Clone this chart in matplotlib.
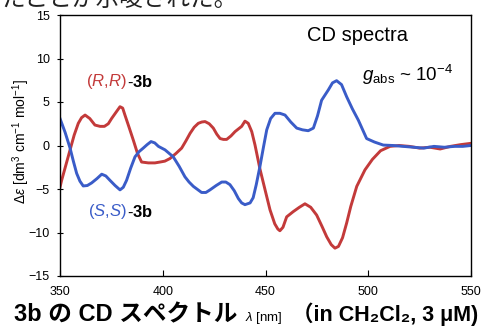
import matplotlib
matplotlib.use("Agg")
import matplotlib.pyplot as plt

plt.rcParams["font.family"] = ["Liberation Sans", "Noto Sans CJK JP", "DejaVu Sans"]
plt.rcParams["mathtext.fontset"] = "custom"
plt.rcParams["mathtext.rm"] = "Liberation Sans"
plt.rcParams["mathtext.it"] = "Liberation Sans:italic"
plt.rcParams["mathtext.bf"] = "Liberation Sans:bold"

# CD spectra (wavelength in nm, delta-epsilon)
rr_wl = [350, 350.8, 352.8, 354.9, 356.9, 358.9, 360.5, 362.2, 364.5, 367, 369.5,
         371.6, 373.5, 375.1, 377.2, 379.2, 380.5, 381.6, 383.6, 385.7, 387.7,
         389.7, 393, 396.2, 398.7, 401, 403.5, 406.5, 409.2, 411.2, 413.3, 415.3,
         417.3, 419, 420.6, 422.6, 424.6, 426.3, 427.9, 429.5, 431.1, 433.2,
         435.2, 438.4, 440, 441.6, 443.3, 444.9, 447.3, 450, 452.2, 454.5, 456,
         457, 458.5, 460.3, 463.5, 466.5, 469.2, 472, 474.9, 477.5, 479.8, 482,
         483.8, 485.5, 487.5, 489.5, 491.5, 494.4, 498.4, 502, 506, 510.6, 515,
         520, 525, 530, 535, 540, 545, 550]
rr_de = [-4.8, -4.0, -2.3, -0.5, 1.2, 2.55, 3.2, 3.5, 3.1, 2.35, 2.2,
         2.2, 2.5, 3.1, 3.8, 4.46, 4.3, 3.5, 2.1, 0.6, -0.9,
         -1.9, -2.0, -2.0, -1.9, -1.8, -1.5, -0.9, -0.3, 0.5, 1.4, 2.1,
         2.55, 2.7, 2.75, 2.5, 2.0, 1.3, 0.8, 0.7, 0.7, 1.1,
         1.6, 2.2, 2.8, 2.55, 1.6, 0.05, -2.7, -5.3, -7.4, -9.0, -9.6,
         -9.8, -9.4, -8.2, -7.6, -7.1, -6.7, -7.1, -8.0, -9.3, -10.5, -11.4,
         -11.8, -11.6, -10.6, -8.9, -7.0, -4.7, -2.8, -1.6, -0.6, -0.1, 0.0,
         -0.1, -0.3, -0.2, -0.4, -0.1, 0.1, 0.25]

ss_wl = [350, 352.5, 354.9, 356.5, 358.1, 359.7, 361.3, 363.3, 365.4, 368, 370.3,
         372.3, 374.3, 376.8, 379.2, 380.8, 382.4, 384.4, 386.5, 388.5, 390.5,
         392.4, 394.3, 396.1, 397.9, 401.1, 405.1, 408, 410.8, 412.8, 414.9,
         418.9, 421, 423, 426, 428.7, 430.7, 432.7, 434.8, 436.8, 438.4, 440,
         442.5, 444, 445.5, 447.3, 449, 450.6, 452.5, 454.6, 457, 459.5, 462.3,
         465.2, 468, 470.8, 473.3, 475.3, 477.3, 480.6, 482.6, 484.6, 487,
         489.5, 492.3, 495.2, 499.2, 503, 507.3, 512, 517, 522, 527, 532, 537,
         542, 546, 550]
ss_de = [3.1, 1.5, -0.3, -1.8, -3.2, -4.1, -4.65, -4.6, -4.3, -3.8, -3.3,
         -3.5, -4.0, -4.6, -5.1, -4.8, -4.0, -2.6, -1.3, -0.7, -0.3,
         0.1, 0.45, 0.3, -0.1, -0.5, -1.3, -2.4, -3.6, -4.2, -4.7,
         -5.4, -5.4, -5.1, -4.6, -4.2, -4.2, -4.5, -5.2, -6.1, -6.6, -6.8,
         -6.6, -6.0, -4.5, -2.4, -0.2, 1.8, 3.1, 3.7, 3.7, 3.5, 2.7,
         2.0, 1.8, 1.7, 2.0, 3.4, 5.2, 6.4, 7.2, 7.45, 7.0,
         5.6, 4.2, 2.9, 0.8, 0.4, 0.05, 0.0, -0.1, -0.2, -0.3, -0.1, -0.2,
         -0.1, -0.1, 0.0]

RED = "#C33A3A"
BLUE = "#3A5CC8"
W, H = 483, 327


def px(x, y):
    return x / W, 1 - y / H


fig = plt.figure(figsize=(W / 100, H / 100), dpi=100)
ax = fig.add_axes([60 / W, 1 - 276 / H, 411 / W, 261 / H])

ax.plot(rr_wl, rr_de, color=RED, lw=2.1, solid_joinstyle="round")
ax.plot(ss_wl, ss_de, color=BLUE, lw=2.1, solid_joinstyle="round")

ax.set_xlim(350, 550)
ax.set_ylim(-15, 15)
ax.set_xticks(range(350, 551, 50))
ax.set_yticks(range(-15, 16, 5))
ax.tick_params(axis="x", direction="in", length=4, pad=7, labelsize=9)
ax.tick_params(axis="y", direction="inout", length=5, pad=5, labelsize=9)
for s in ax.spines.values():
    s.set_linewidth(1.0)

ax.text(495, 12.7, "CD spectra", fontsize=14.5, ha="center", va="center")
ax.text(497, 8.1, r"$g_{\rm abs}$ ~ 10$^{-4}$", fontsize=13.5, ha="left", va="center")

ax.text(382.6, 7.3, r"($\it{R}$,$\it{R}$)", color=RED, fontsize=12,
        ha="right", va="center")
ax.text(382.6, 7.3, r"-$\bf{3b}$", color="black", fontsize=12,
        ha="left", va="center")
ax.text(382.6, -7.6, r"($\it{S}$,$\it{S}$)", color=BLUE, fontsize=12,
        ha="right", va="center")
ax.text(382.6, -7.6, r"-$\bf{3b}$", color="black", fontsize=12,
        ha="left", va="center")

fig.text(*px(21, 142), r"$\Delta\varepsilon$ [dm$^3$ cm$^{-1}$ mol$^{-1}$]",
         rotation=90, fontsize=10, ha="center", va="center")

# slide text around the chart
fig.text(*px(2, 0), "たことが示唆された。", fontsize=17, ha="left", va="center",
         family=["Noto Sans CJK JP"], color="#222222")
fig.text(*px(14, 321), "3b の CD スペクトル", fontsize=17, fontweight="bold",
         ha="left", va="baseline")
fig.text(*px(245, 321), r"$\it{λ}$ [nm]", fontsize=9.5, ha="left", va="baseline")
fig.text(*px(292, 321), "（in CH₂Cl₂, 3 μM)", fontsize=15.5, fontweight="bold",
         ha="left", va="baseline")

fig.savefig("out.png", dpi=100)
